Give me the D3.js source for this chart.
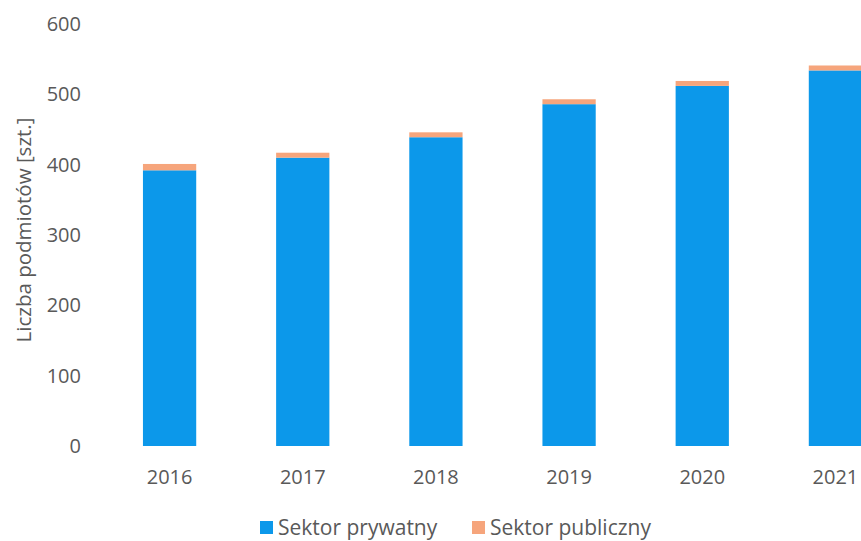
<!DOCTYPE html>
<html>
<head>
<meta charset="utf-8">
<script src="https://cdn.jsdelivr.net/npm/d3@7"></script>
<style>
  body { margin: 0; background: #fff; }
  text { font-family: "Open Sans", sans-serif; fill: #595959; }
</style>
</head>
<body>
<svg id="chart" width="861" height="541"></svg>
<script>
'use strict';

var years = ['2016', '2017', '2018', '2019', '2020', '2021'];
var prywatny = [392, 410, 439, 486, 512, 534];   // Sektor prywatny
var publiczny = [9, 7, 7, 7, 7, 7];              // Sektor publiczny
var yTicks = [0, 100, 200, 300, 400, 500, 600];

var colors = { prywatny: '#0c98ea', publiczny: '#f6a57c' };

var svg = d3.select('#chart');

var x = d3.scaleBand().domain(years).range([103, 902]).paddingInner(0.6).paddingOuter(0.3);
var y = d3.scaleLinear().domain([0, 600]).range([446, 24]);

// y axis, labels only
var yAxis = svg.append('g')
  .attr('transform', 'translate(88,0)')
  .call(d3.axisLeft(y).tickValues(yTicks).tickSize(0).tickPadding(7));
yAxis.select('.domain').remove();
yAxis.selectAll('text').style('font-size', '20px').style('font-family', null).attr('fill', null);

svg.append('text')
  .attr('transform', 'translate(31,230) rotate(-90)')
  .attr('text-anchor', 'middle')
  .style('font-size', '20.5px')
  .text('Liczba podmiotów [szt.]');

// x axis
var xAxis = svg.append('g')
  .attr('transform', 'translate(0,446)')
  .call(d3.axisBottom(x).tickSize(0).tickPadding(24));
xAxis.select('.domain').remove();
xAxis.selectAll('text').style('font-size', '20px').style('font-family', null).attr('fill', null);

// stacked bars
var rows = years.map(function(yr, i) { return { year: yr, prywatny: prywatny[i], publiczny: publiczny[i] }; });
var stack = d3.stack().keys(['prywatny', 'publiczny'])(rows);

svg.append('g').selectAll('g')
  .data(stack)
  .join('g')
    .attr('fill', function(s) { return colors[s.key]; })
  .selectAll('rect')
  .data(function(s) { return s; })
  .join('rect')
    .attr('x', function(d) { return x(d.data.year); })
    .attr('width', x.bandwidth())
    .attr('y', function(d) { return y(d[1]); })
    .attr('height', function(d) { return y(d[0]) - y(d[1]); });

// legend
var legend = [
  { label: 'Sektor prywatny', key: 'prywatny', x: 260 },
  { label: 'Sektor publiczny', key: 'publiczny', x: 472 }
];
var lg = svg.append('g').selectAll('g').data(legend).join('g')
  .attr('transform', function(d) { return 'translate(' + d.x + ',521)'; });
lg.append('rect').attr('width', 13).attr('height', 13).attr('fill', function(d) { return colors[d.key]; });
lg.append('text').attr('x', 18).attr('y', 14).style('font-size', '21px').text(function(d) { return d.label; });
</script>
</body>
</html>
